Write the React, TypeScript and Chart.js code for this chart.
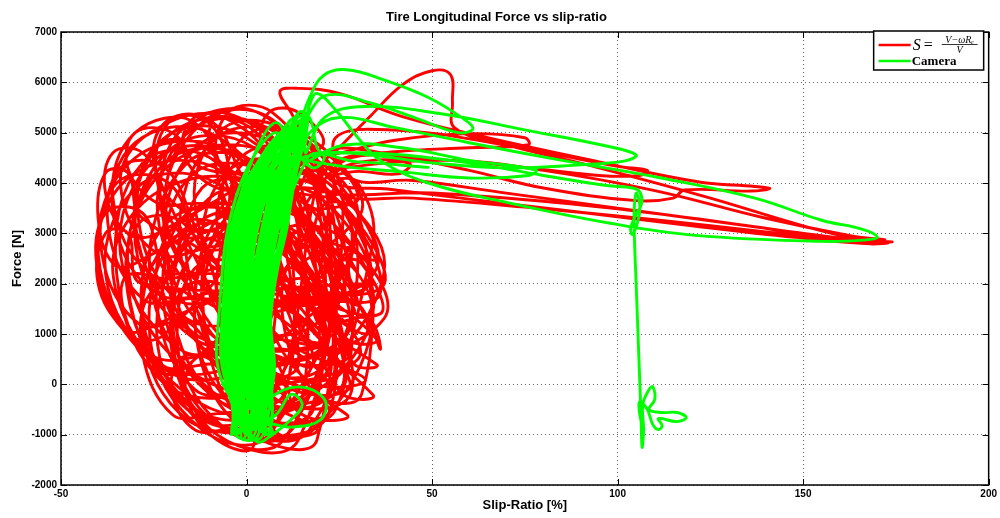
import React, { useEffect, useRef } from "react";
import { Chart, registerables } from "chart.js";

Chart.register(...registerables);

const chartTitle = "Tire Longitudinal Force vs slip-ratio";
const xAxisTitle = "Slip-Ratio [%]";
const yAxisTitle = "Force [N]";
const xTickValues = [-50, 0, 50, 100, 150, 200];
const yTickValues = [-2000, -1000, 0, 1000, 2000, 3000, 4000, 5000, 6000, 7000];
const seriesNames = ["S = (V−ωRe)/V", "Camera"];
const legendLhs = "S";
const legendNumerator = "V−ωRₑ";
const legendDenominator = "V";

// Red series (wheel-speed slip ratio): large loops around zero slip
const redClusterLoops: number[][] = [
  [30, 2200], [12, 4400], [-18, 4500], [-32, 2400], [-14, 200], [16, 0],
  [24, 1600], [8, 3800], [-22, 3900], [-36, 2200], [-16, -200], [10, -500],
  [34, 1400], [20, 3400], [-4, 3600], [-14, 1400], [-2, -800], [22, -600],
  [18, 3000], [4, 5100], [-20, 5000], [-30, 3200], [-14, 1000], [8, 900],
  [26, 800], [10, 2800], [-14, 2900], [-24, 800], [-8, -1000], [14, -1100],
  [22, 3600], [6, 5300], [-12, 5200], [-22, 3400], [-6, 1600], [14, 1700],
  [36, 1800], [22, 3800], [2, 3900], [-8, 1800], [4, -200], [26, 0],
  [14, 2400], [-4, 4600], [-30, 4500], [-40, 2500], [-24, 400], [0, 500],
  [28, 2600], [14, 4800], [-8, 4900], [-18, 2800], [-4, 600], [18, 600],
  [20, 1200], [4, 3200], [-20, 3300], [-28, 1300], [-12, -600], [8, -800],
  [10, 3800], [-6, 5300], [-26, 5000], [-34, 4000], [-24, 2600], [-4, 2700],
  [32, 1000], [20, 2600], [2, 2700], [-6, 1000], [4, -600], [24, -500],
  [26, 2900], [10, 4700], [-12, 4800], [-22, 2900], [-8, 900], [14, 1000],
  [16, 800], [2, 2900], [-18, 3000], [-26, 900], [-12, -900], [6, -1000],
  [30, 3200], [18, 4500], [0, 4600], [-8, 3200], [2, 1700], [22, 1800],
  [12, 1800], [-6, 3900], [-28, 4000], [-38, 2200], [-22, 300], [-2, 200],
  [37, 1300], [26, 2900], [8, 3000], [0, 1300], [8, -300], [28, -200],
  [20, 2000], [4, 4300], [-16, 4400], [-26, 2100], [-10, -100], [10, -200],
  [8, 3400], [-10, 5000], [-30, 4800], [-36, 3400], [-24, 1800], [-2, 1900],
  [26, 1700], [12, 3600], [-10, 3700], [-20, 1600], [-6, -400], [16, -300],
  [30, 2500], [16, 4200], [-4, 4300], [-12, 2500], [0, 800], [20, 800],
  [12, 1000], [-2, 2800], [-20, 2900], [-28, 1200], [-16, -500], [2, -700],
  [22, 3400], [8, 5000], [-14, 5100], [-24, 3400], [-10, 1600], [12, 1700],
  [33, 2000], [20, 3700], [2, 3800], [-6, 2000], [6, 300], [26, 300],
  [14, 2600], [-2, 4500], [-24, 4500], [-34, 2600], [-18, 700], [2, 700],
  [18, 400], [4, 2200], [-14, 2300], [-18, 400], [-8, -1000], [10, -1100],
  [24, 2300], [8, 4100], [-14, 4200], [-22, 2300], [-8, 500], [14, 500],
  [28, 1200], [14, 3000], [-6, 3100], [-14, 1200], [-2, -500], [18, -500],
  [16, 3200], [0, 4900], [-22, 4900], [-30, 3100], [-16, 1300], [6, 1400],
  [35, 2300], [22, 4000], [4, 4100], [-4, 2300], [6, 600], [28, 600],
  [10, 2200], [-6, 4200], [-30, 4200], [-40, 2600], [-26, 600], [-4, 700],
  [22, 900], [8, 2700], [-12, 2800], [-20, 900], [-8, -800], [12, -900],
  [26, 3600], [12, 5000], [-6, 5100], [-14, 3600], [-2, 2000], [18, 2100],
  [30, 1600], [16, 3300], [-4, 3400], [-12, 1600], [0, -200], [22, -200],
  [18, 2800], [2, 4700], [-20, 4700], [-30, 2800], [-14, 900], [6, 900],
  [20, 1400], [6, 3300], [-16, 3400], [-22, 1400], [-8, -300], [12, -400],
];

// Red series: smaller loops that fill the cluster
const redSmallLoops: number[][] = [
  [-13, 3000], [-22, 4300], [-34, 4300], [-37, 3000], [-28, 1700], [-16, 1700],
  [-8, 1800], [-17, 3200], [-29, 3200], [-32, 1800], [-23, 400], [-11, 400],
  [4, 600], [-5, 1900], [-17, 1900], [-20, 600], [-11, -700], [1, -700],
  [22, 300], [12, 1500], [-2, 1500], [-6, 300], [4, -900], [18, -900],
  [34, 1200], [25, 2600], [13, 2600], [10, 1200], [19, -200], [31, -200],
  [32, 2800], [23, 4100], [11, 4100], [8, 2800], [17, 1500], [29, 1500],
  [0, 4000], [-9, 5200], [-21, 5200], [-24, 4000], [-15, 2800], [-3, 2800],
  [16, 4200], [7, 5400], [-5, 5400], [-8, 4200], [1, 3000], [13, 3000],
  [-20, 2200], [-28, 3400], [-38, 3400], [-40, 2200], [-32, 1000], [-22, 1000],
  [-1, 3200], [-11, 4700], [-25, 4700], [-29, 3200], [-19, 1700], [-5, 1700],
  [24, 1800], [14, 3300], [0, 3300], [-4, 1800], [6, 300], [20, 300],
  [37, 2200], [29, 3500], [20, 3500], [19, 2200], [27, 900], [35, 900],
  [12, 2400], [2, 3900], [-12, 3900], [-16, 2400], [-6, 900], [8, 900],
  [-8, 600], [-16, 1800], [-26, 1800], [-28, 600], [-20, -600], [-10, -600],
  [22, -200], [14, 600], [4, 600], [2, -200], [9, -1000], [19, -900],
  [4, -300], [-4, 500], [-14, 500], [-16, -300], [-8, -1100], [2, -1200],
  [10, 4800], [3, 5400], [-7, 5400], [-10, 4800], [-3, 4200], [7, 4200],
  [-12, 4300], [-20, 5000], [-30, 5000], [-32, 4300], [-24, 3600], [-14, 3600],
  [29, 3600], [23, 4500], [15, 4500], [13, 3600], [20, 2700], [28, 2700],
  [4, 1500], [-6, 3100], [-20, 3100], [-24, 1500], [-14, -100], [0, -100],
  [30, 500], [21, 1600], [9, 1600], [6, 500], [15, -600], [27, -600],
  [-18, 1200], [-25, 2100], [-33, 2100], [-32, 1200], [-25, 300], [-17, 300],
  [16, 3000], [8, 4300], [-2, 4300], [-4, 3000], [4, 1700], [14, 1700],
  [36, 1400], [31, 2400], [25, 2400], [24, 1400], [29, 400], [35, 400],
  [-28, 3300], [-32, 4200], [-38, 4200], [-40, 3300], [-36, 2400], [-30, 2400],
  [20, 4700], [14, 5400], [6, 5400], [4, 4700], [10, 4000], [18, 4000],
  [20, 1200], [7, 3200], [-13, 3200], [-20, 1200], [-7, -800], [13, -800],
  [13, 3500], [1, 5100], [-17, 5100], [-23, 3500], [-11, 1900], [7, 1900],
  [33, 2000], [20, 4000], [2, 4000], [-3, 2000], [10, 0], [28, 0],
  [5, 2200], [-8, 4400], [-28, 4400], [-35, 2200], [-22, 0], [-2, 0],
];

// Red series: further medium loops
const redMediumLoops: number[][] = [
  [-22, 3800], [-28, 4600], [-36, 4600], [-38, 3800], [-32, 3000], [-24, 3000],
  [7, 4600], [-2, 5300], [-14, 5300], [-17, 4600], [-8, 3900], [4, 3900],
  [25, 3800], [17, 4800], [7, 4800], [5, 3800], [13, 2800], [23, 2800],
  [35, 2500], [27, 3700], [17, 3700], [15, 2500], [23, 1300], [33, 1300],
  [36, 700], [30, 1600], [22, 1600], [20, 700], [26, -200], [34, -200],
  [-11, 2600], [-21, 4000], [-35, 4000], [-39, 2600], [-29, 1200], [-15, 1200],
  [-4, -200], [-10, 500], [-18, 500], [-20, -200], [-14, -900], [-6, -900],
  [22, -600], [13, 0], [1, 0], [-2, -600], [7, -1200], [19, -1100],
  [22, 2800], [8, 5200], [-14, 5200], [-22, 2800], [-8, 400], [14, 400],
  [-4, 3700], [-14, 5200], [-30, 5000], [-36, 3700], [-26, 2200], [-10, 2200],
  [36, 1900], [24, 3700], [8, 3700], [4, 1900], [16, 100], [32, 100],
  [8, 1000], [-4, 2700], [-22, 2700], [-28, 1000], [-16, -700], [2, -700],
  [-5, 4400], [-12, 5300], [-22, 5200], [-25, 4400], [-18, 3500], [-8, 3500],
  [21, 1000], [9, 2900], [-7, 2900], [-11, 1000], [1, -900], [17, -900],
  [34, 2800], [30, 4000], [24, 4000], [24, 3000], [28, 2000], [34, 2000],
  [-28, 2000], [-32, 3000], [-38, 3000], [-40, 2000], [-33, 1100], [-27, 1100],
  [30, 3300], [17, 4900], [-1, 4900], [-6, 3300], [7, 1700], [25, 1700],
  [16, 2000], [2, 4400], [-22, 4400], [-32, 2000], [-16, -400], [6, -400],
];

// Red series: wheel-lock excursions toward high slip
const redExcursionLoops: number[][] = [
  [20, 4300], [25, 4700], [33, 5300], [42, 5950], [50, 6230], [55, 6150], [55.5, 5600], [56, 5100],
  [68, 4800], [95, 4300], [125, 3700], [150, 3150], [165, 2880], [173, 2820], [168, 2790],
  [148, 2920], [120, 3150], [90, 3420], [60, 3680], [38, 3880], [24, 4000],
  [18, 4600], [12, 5400], [9, 5820], [14, 5880], [25, 5780], [42, 5320], [65, 4900], [95, 4420],
  [122, 4020], [137, 3930], [141, 3890], [136, 3840], [118, 3860], [115, 3700], [105, 3650],
  [80, 3900], [60, 4250], [40, 4550], [25, 4700],
  [22, 4550], [40, 4850], [60, 4980], [75, 4900], [76, 4760], [60, 4700], [40, 4620], [24, 4420],
  [20, 3850], [50, 3800], [85, 3600], [115, 3350], [145, 3050], [166, 2860], [174, 2830],
  [165, 2850], [140, 3030], [110, 3270], [75, 3520], [45, 3700], [26, 3750],
  [24, 4200], [34, 4450], [44, 4380], [41, 4180], [30, 4230], [22, 4150],
  [26, 4300], [55, 4450], [80, 4250], [110, 3850], [140, 3300], [163, 2950], [172, 2870],
  [160, 2900], [135, 3150], [100, 3500], [70, 3800], [45, 4050], [28, 4100],
  [24, 4900], [40, 5050], [70, 4750], [100, 4330], [108, 4250], [106, 4150], [95, 4150],
  [70, 4350], [45, 4500], [28, 4500], [20, 4000],
];

// Green series (camera)
const greenStart: number[][] = [
  [49, 4310], [30, 4420], [16, 4450],
];

const greenClusterLoops: number[][] = [
  [-4, -900], [6.7, 0], [6.3, 1500], [12, 3800], [8, 5200], [-1.5, 3800], [-6.3, 1500], [-5.3, 0],
  [6, -1000], [4, 0], [3.5, 1500], [9, 3800], [15, 4900], [3.5, 3800], [-1.5, 1500], [-1, 0],
  [0, -800], [3.5, 0], [2.8, 1500], [8.4, 3800], [10, 4600], [0.2, 3800], [-4.8, 1500], [-4.5, 0],
  [3, -1100], [7, 0], [6.5, 1500], [12.2, 3800], [16, 5300], [1.8, 3800], [-3.5, 1500], [-2.6, 0],
  [-2, -700], [2.5, 0], [2, 1500], [7.3, 3800], [7, 4200], [3.3, 3800], [-2, 1500], [-1.1, 0],
  [7, -1000], [3, 0], [2.4, 1500], [8, 3800], [12, 5100], [-1.4, 3800], [-6.4, 1500], [-5.5, 0],
  [1, -900], [7, 0], [6.7, 1500], [12.4, 3800], [14, 5200], [0.2, 3800], [-4.7, 1500], [-3.7, 0],
  [-3, -1000], [2, 0], [1.3, 1500], [6.7, 3800], [6, 4000], [4, 3800], [-1.3, 1500], [-0.5, 0],
  [5, -600], [2.7, 0], [2.2, 1500], [7.7, 3800], [11, 4500], [1, 3800], [-4.2, 1500], [-3.3, 0],
  [2, -1100], [5.7, 0], [5.2, 1500], [10.7, 3800], [16, 5000], [4, 3800], [-1.2, 1500], [-0.3, 0],
  [-1, -800], [7, 0], [6.5, 1500], [12.3, 3800], [12, 4900], [-0.7, 3800], [-5.5, 1500], [-4.5, 0],
  [4, -900], [1.3, 0], [0.7, 1500], [6.2, 3800], [9, 4400], [1.4, 3800], [-3.7, 1500], [-2.9, 0],
  [0, -1000], [4.3, 0], [3.8, 1500], [9.4, 3800], [13, 5300], [1.2, 3800], [-3.8, 1500], [-2.9, 0],
  [6, -700], [6.8, 0], [6.3, 1500], [11.9, 3800], [15, 5100], [3.7, 3800], [-1.3, 1500], [-0.4, 0],
  [-4, -1000], [1.4, 0], [0.8, 1500], [6.4, 3800], [7, 4300], [0.2, 3800], [-4.8, 1500], [-4, 0],
  [3, -800], [3.2, 0], [2.6, 1500], [8, 3800], [12, 4800], [4.6, 3800], [-0.6, 1500], [0.2, 0],
  [1, -1100], [5.8, 0], [5.4, 1500], [11, 3800], [10, 5000], [-0.5, 3800], [-5.4, 1500], [-4.4, 0],
  [-2, -900], [4.2, 0], [3.6, 1500], [9, 3800], [14, 4600], [5.6, 3800], [0.4, 1500], [1.2, 0],
  [5, -1000], [4.2, 0], [3.7, 1500], [9.4, 3800], [9, 4900], [-0.8, 3800], [-5.7, 1500], [-4.8, 0],
  [0, -700], [4.7, 0], [4.2, 1500], [9.7, 3800], [16, 5200], [3, 3800], [-2.2, 1500], [-1.3, 0],
  [2, -900], [3.1, 0], [2.5, 1500], [8, 3800], [11, 4500], [2.6, 3800], [-2.5, 1500], [-1.7, 0],
  [-3, -1000], [5.7, 0], [5.3, 1500], [11.1, 3800], [8, 5000], [-2.5, 3800], [-7.3, 1500], [-6.3, 0],
  [6, -800], [6.4, 0], [5.9, 1500], [11.6, 3800], [15, 5350], [2, 3800], [-2.9, 1500], [-2, 0],
  [1, -1000], [1.6, 0], [0.9, 1500], [6.3, 3800], [10, 4300], [4.3, 3800], [-0.9, 1500], [-0.2, 0],
  [4, -900], [5.3, 0], [4.8, 1500], [10.4, 3800], [13, 5000], [2.2, 3800], [-2.8, 1500], [-1.9, 0],
  [-1, -1100], [2.7, 0], [2.2, 1500], [7.7, 3800], [9, 4700], [1, 3800], [-4.2, 1500], [-3.3, 0],
  [3, -800], [5.6, 0], [5, 1500], [10.5, 3800], [16, 4900], [5.1, 3800], [0, 1500], [0.8, 0],
  [0, -1000], [4.9, 0], [4.4, 1500], [10, 3800], [11, 5100], [0.6, 3800], [-4.4, 1500], [-3.5, 0],
];

const greenBottomLoops: number[][] = [
  [1, -900], [6, -300], [14, -50], [21, -300], [20, -700], [12, -850], [5, -800], [2, -1100],
  [-3, -1000], [-2, -700], [3, -800], [8, -600], [12, -200], [15, -400], [12, -700], [6, -1050],
  [3, -1150], [1, -900],
];

const greenTopLoops: number[][] = [
  [8, 3800], [11, 4800], [14, 5400], [17, 5300], [19, 4700], [21, 4500], [18, 4300], [14, 4600],
];

const greenExcursionLoops: number[][] = [
  [14, 5000], [17, 5700], [21, 6150], [27, 6250], [37, 6050], [49, 5700], [58, 5300], [61, 5080],
  [57, 5000], [46, 5280], [33, 5600], [22, 5750], [17, 5400], [14, 4800],
  [15, 4900], [17, 5550], [19, 5780], [24, 5450], [30, 4900], [36, 4450], [49, 4000], [71, 3600],
  [98, 3200], [121, 2960], [155, 2840], [167, 2870], [170, 2930], [166, 3080], [155, 3260],
  [137, 3700], [111, 4110], [85, 4450], [60, 4800], [40, 5100], [25, 5300], [17, 5000],
  [16, 4600], [21, 5300], [32, 5520], [52, 5380], [76, 5040], [96, 4750], [105, 4560],
  [102, 4440], [90, 4360], [70, 4300], [50, 4400], [34, 4550], [22, 4600],
  [16, 4400], [26, 4750], [42, 4700], [60, 4450], [78, 4260], [76, 4150], [60, 4100],
  [42, 4220], [24, 4350],
];

const greenTail: number[][] = [
  [15, 4500], [30, 4600], [55, 4450], [80, 4150], [97, 3950], [104, 3900], [106, 3820],
  [106.5, 3600], [105, 3380], [103.5, 3100], [104, 2980], [105.5, 3250], [106, 3550],
  [105, 3800], [104.5, 3500], [104.5, 3000], [105, 2000], [105.5, 1000], [106, 0],
  [106.3, -600], [106.6, -1250], [107, -900], [106.8, -400], [108.5, -100], [109.5, -50],
  [110, -300], [108.5, -500], [112, -560], [116, -560], [118.5, -660], [116, -740],
  [111, -680], [112, -820], [111, -900], [109.5, -800], [108, -500], [106, -350],
  [105.8, -500], [106.5, -800],
];

const toPoints = (arr: number[][]) => arr.map(([x, y]) => ({ x, y }));

const redPoints = toPoints([...redClusterLoops, ...redSmallLoops, ...redMediumLoops, ...redExcursionLoops]);
const greenPoints = toPoints([
  ...greenStart,
  ...greenClusterLoops,
  ...greenBottomLoops,
  ...greenTopLoops,
  ...greenExcursionLoops,
  ...greenTail,
]);

const RED = "#ff0000";
const GREEN = "#00ff00";
const SANS = "'Liberation Sans', Arial, Helvetica, sans-serif";
const SERIF = "'Liberation Serif', 'Times New Roman', serif";

const framePlugin = {
  id: "matlabFrame",
  afterDraw(chart: any) {
    const { ctx, chartArea: a, scales } = chart;
    ctx.save();
    ctx.strokeStyle = "#000";
    ctx.lineWidth = 1.5;
    ctx.strokeRect(a.left, a.top, a.right - a.left, a.bottom - a.top);
    const tl = 6;
    ctx.lineWidth = 1;
    ctx.beginPath();
    for (const v of xTickValues) {
      const px = Math.round(scales.x.getPixelForValue(v)) + 0.5;
      ctx.moveTo(px, a.bottom);
      ctx.lineTo(px, a.bottom - tl);
      ctx.moveTo(px, a.top);
      ctx.lineTo(px, a.top + tl);
    }
    for (const v of yTickValues) {
      const py = Math.round(scales.y.getPixelForValue(v)) + 0.5;
      ctx.moveTo(a.left, py);
      ctx.lineTo(a.left + tl, py);
      ctx.moveTo(a.right, py);
      ctx.lineTo(a.right - tl, py);
    }
    ctx.stroke();

    // legend box
    const bw = 110;
    const bh = 39;
    const bx = a.right - 5 - bw;
    const by = a.top - 1;
    ctx.fillStyle = "#fff";
    ctx.fillRect(bx, by, bw, bh);
    ctx.strokeStyle = "#000";
    ctx.lineWidth = 1.5;
    ctx.strokeRect(bx, by, bw, bh);

    const row1 = by + 14;
    const row2 = by + 30;
    ctx.lineWidth = 2.5;
    ctx.strokeStyle = RED;
    ctx.beginPath();
    ctx.moveTo(bx + 5, row1);
    ctx.lineTo(bx + 37, row1);
    ctx.stroke();
    ctx.strokeStyle = GREEN;
    ctx.beginPath();
    ctx.moveTo(bx + 5, row2);
    ctx.lineTo(bx + 37, row2);
    ctx.stroke();

    ctx.fillStyle = "#000";
    ctx.textBaseline = "middle";
    ctx.textAlign = "left";
    ctx.font = `italic 16px ${SERIF}`;
    ctx.fillText(legendLhs, bx + 39, row1 + 1);
    ctx.font = `16px ${SERIF}`;
    ctx.fillText("=", bx + 50, row1 + 1);
    const fx = bx + 86;
    ctx.textAlign = "center";
    ctx.font = `italic 10px ${SERIF}`;
    ctx.fillText(legendNumerator, fx, row1 - 5);
    ctx.fillText(legendDenominator, fx, row1 + 5);
    ctx.lineWidth = 0.8;
    ctx.strokeStyle = "#000";
    ctx.beginPath();
    ctx.moveTo(fx - 18, row1 - 0.5);
    ctx.lineTo(fx + 18, row1 - 0.5);
    ctx.stroke();
    ctx.textAlign = "left";
    ctx.font = `bold 13px ${SERIF}`;
    ctx.fillText(seriesNames[1], bx + 38, row2 + 1);
    ctx.restore();
  },
};

export default function App() {
  const ref = useRef<HTMLCanvasElement>(null);
  useEffect(() => {
    if (!ref.current) return;
    const tickFont = { family: SANS, size: 10, weight: "bold" as const };
    const titleFont = { family: SANS, size: 13, weight: "bold" as const };
    const lineStyle = {
      showLine: true,
      borderWidth: 2.9,
      pointRadius: 0,
      tension: 0.4,
      borderJoinStyle: "round",
      borderCapStyle: "round",
    };
    const chart = new Chart(ref.current, {
      type: "scatter",
      data: {
        datasets: [
          { ...lineStyle, label: seriesNames[0], data: redPoints, borderColor: RED, backgroundColor: RED, order: 1 } as any,
          { ...lineStyle, label: seriesNames[1], data: greenPoints, borderColor: GREEN, backgroundColor: GREEN, order: 0 } as any,
        ],
      },
      options: {
        responsive: false,
        animation: false,
        devicePixelRatio: 1,
        events: [],
        layout: { padding: { left: 0, right: 7, top: 0, bottom: 0 } },
        plugins: {
          legend: { display: false },
          tooltip: { enabled: false },
          title: {
            display: true,
            text: chartTitle,
            color: "#000",
            font: titleFont,
            padding: { top: 10, bottom: 6.4 },
          },
        },
        scales: {
          x: {
            type: "linear",
            min: -50,
            max: 200,
            afterBuildTicks: (s: any) => {
              s.ticks = xTickValues.map((v) => ({ value: v }));
            },
            afterFit: (s: any) => {
              s.height = 33;
            },
            ticks: { color: "#000", font: tickFont, padding: 3, maxRotation: 0, autoSkip: false, callback: (v: any) => String(v) },
            grid: { color: "rgba(0,0,0,0.6)", lineWidth: 1, drawTicks: false },
            border: { display: false, dash: [1, 3] },
            title: { display: true, text: xAxisTitle, color: "#000", font: titleFont, padding: { top: 0, bottom: 5 } },
          },
          y: {
            type: "linear",
            min: -2000,
            max: 7000,
            afterBuildTicks: (s: any) => {
              s.ticks = yTickValues.map((v) => ({ value: v }));
            },
            afterFit: (s: any) => {
              s.width = 61;
            },
            ticks: { color: "#000", font: tickFont, padding: 4, autoSkip: false, callback: (v: any) => String(v) },
            grid: { color: "rgba(0,0,0,0.6)", lineWidth: 1, drawTicks: false },
            border: { display: false, dash: [1, 3] },
            title: { display: true, text: yAxisTitle, color: "#000", font: titleFont, padding: { top: 10, bottom: 0 } },
          },
        },
      } as any,
      plugins: [framePlugin],
    });
    return () => chart.destroy();
  }, []);
  return (
    <div style={{ position: "absolute", left: 0, top: 0, width: 1000, height: 518, background: "#fff" }}>
      <canvas ref={ref} width={1000} height={518} style={{ display: "block" }} />
    </div>
  );
}
